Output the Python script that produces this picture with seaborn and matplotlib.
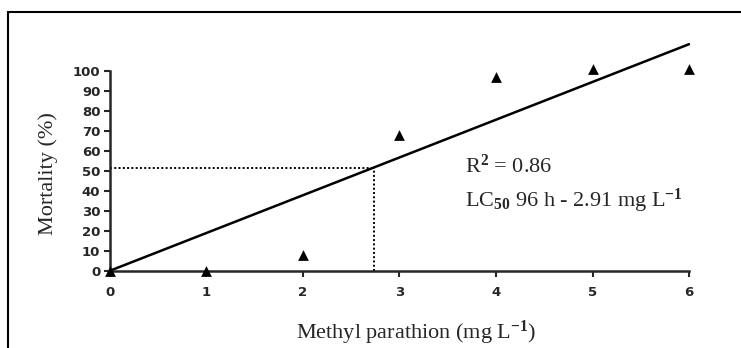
import numpy as np
import pandas as pd
import matplotlib
matplotlib.use("Agg")
import matplotlib.pyplot as plt
from matplotlib.lines import Line2D
import seaborn as sns

# 数据
concentration = [0, 1, 2, 3, 4, 5, 6]
mortality = [0, 0, 8, 68, 97, 101, 101]
fit_x = [0, 6]
fit_y = [0, 113.4]
lc50_x = 2.74
lc50_y = 51.5

x_ticks = [0, 1, 2, 3, 4, 5, 6]
y_ticks = list(range(0, 101, 10))

sns.set_style("ticks")
plt.rcParams['font.family'] = ['DejaVu Sans']
plt.rcParams['mathtext.fontset'] = 'custom'
plt.rcParams['mathtext.rm'] = 'Liberation Serif'
plt.rcParams['mathtext.it'] = 'Liberation Serif:italic'
plt.rcParams['mathtext.bf'] = 'Liberation Serif:bold'

fig = plt.figure(figsize=(7.41, 3.48), dpi=100)
ax = fig.add_axes([0.1354, 0.2106, 0.8335, 0.6773])

df = pd.DataFrame({'x': concentration, 'y': mortality})
sns.scatterplot(data=df, x='x', y='y', marker='^', s=60, color='black',
                edgecolor='black', linewidth=0, ax=ax, clip_on=False, zorder=5)
sns.lineplot(x=fit_x, y=fit_y, color='black', linewidth=1.8, ax=ax)

# LC50 虚线
ax.plot([0, lc50_x], [lc50_y, lc50_y], color='black', linestyle=(0, (1, 1.2)), linewidth=1.4)
ax.plot([lc50_x, lc50_x], [0, lc50_y], color='black', linestyle=(0, (1, 1.2)), linewidth=1.4)

ax.set_xlim(-0.1, 6.3)
ax.set_ylim(-2, 116)
ax.spines['left'].set_position(('data', 0))
ax.spines['bottom'].set_position(('data', 0))
ax.spines['left'].set_bounds(0, 100)
ax.spines['bottom'].set_bounds(0, 6)
ax.spines['right'].set_visible(False)
ax.spines['top'].set_visible(False)
for s in ['left', 'bottom']:
    ax.spines[s].set_linewidth(1.8)
ax.set_xticks(x_ticks)
ax.set_yticks(y_ticks)
ax.tick_params(direction='out', length=4, width=1.5, labelsize=9.5, pad=7)
for lab in ax.get_xticklabels() + ax.get_yticklabels():
    lab.set_fontweight('bold')
ax.tick_params(axis='y', pad=3)

ax.set_xlabel('')
ax.set_ylabel('')
fig.text(416 / 741, 1 - 339 / 348, r'Methyl parathion (mg L$^{\mathbf{-1}}$)',
         family='Liberation Serif', fontsize=16, ha='center', va='baseline')
fig.text(48 / 741, 1 - 174 / 348, 'Mortality (%)', family='Liberation Serif',
         fontsize=16, rotation=90, ha='center', va='center')

ax.text(3.68, 49, r'R$^{\mathbf{2}}$ = 0.86', family='Liberation Serif',
        fontsize=16, ha='left', va='baseline')
ax.text(3.68, 32, r'LC$_{\mathbf{50}}$ 96 h - 2.91 mg L$^{\mathbf{-1}}$',
        family='Liberation Serif', fontsize=16, ha='left', va='baseline')

# 外框
fig.add_artist(Line2D([8 / 741, 1], [1 - 12 / 348, 1 - 12 / 348], color='black', linewidth=1.5))
fig.add_artist(Line2D([8 / 741, 8 / 741], [0, 1 - 12 / 348], color='black', linewidth=1.5))

fig.savefig('out.png', dpi=100, facecolor='white')
